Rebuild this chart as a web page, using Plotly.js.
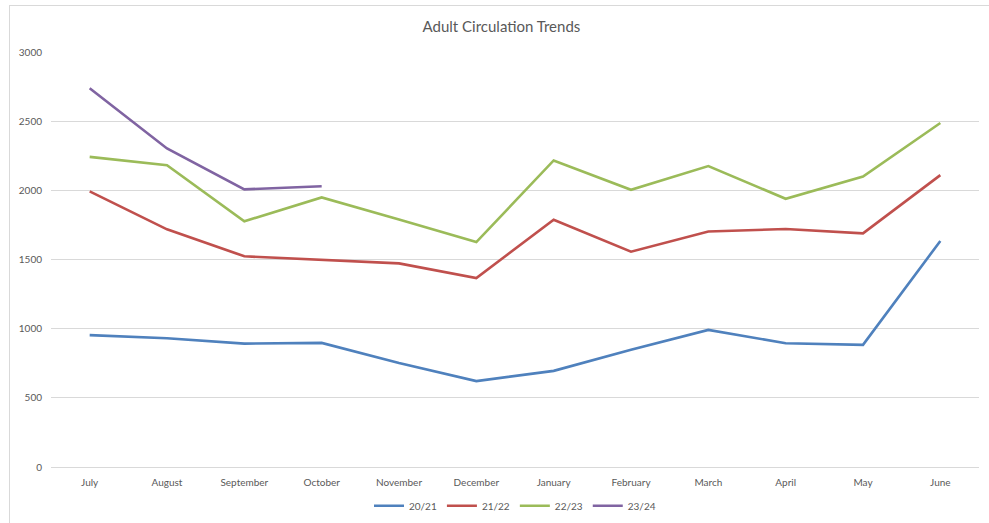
<!DOCTYPE html>
<html>
<head>
<meta charset="utf-8">
<script src="https://cdn.plot.ly/plotly-3.0.1.min.js"></script>
<style>
  html, body { margin: 0; padding: 0; background: #fff; }
  #chart { width: 989px; height: 523px; position: relative; }
  #frame { position: absolute; left: 9px; top: 5px; width: 990px; height: 530px;
           border-left: 1px solid #d9d9d9; border-top: 1px solid #d9d9d9; pointer-events: none; }
</style>
</head>
<body>
<div id="chart"></div>
<div id="frame"></div>
<script>
const months = ["July","August","September","October","November","December","January","February","March","April","May","June"];
const seriesNames = ["20/21","21/22","22/23","23/24"];
const s2021 = [953, 931, 892, 897, 751, 621, 695, 847, 991, 895, 883, 1634];
const s2122 = [1992, 1718, 1523, 1496, 1472, 1366, 1787, 1556, 1703, 1720, 1689, 2110];
const s2223 = [2242, 2182, 1776, 1949, 1790, 1626, 2216, 2004, 2175, 1939, 2100, 2487];
const s2324 = [2738, 2303, 2007, 2030];
const colors = ["#4F81BD","#C0504D","#9BBB59","#8064A2"];

const allSeries = [s2021, s2122, s2223, s2324];
const traces = allSeries.map((vals, i) => ({
  type: "scatter",
  mode: "lines",
  name: seriesNames[i],
  x: months.slice(0, vals.length),
  y: vals,
  line: { color: colors[i], width: 2.6 }
}));

const fontFam = "Lato, 'Open Sans', sans-serif";
const layout = {
  width: 989, height: 523,
  margin: { l: 51, r: 10, t: 52, b: 56, autoexpand: false },
  paper_bgcolor: "rgba(0,0,0,0)",
  plot_bgcolor: "#fff",
  title: { text: "Adult Circulation Trends", x: 0.507, xanchor: "center", y: 0.948, yanchor: "middle",
           font: { family: fontFam, size: 15, color: "#595959" } },
  xaxis: {
    type: "category", categoryorder: "array", categoryarray: months,
    range: [-0.5, 11.5], automargin: false,
    showgrid: false, zeroline: false, showline: false,
    ticks: "", ticklabelstandoff: 8,
    tickfont: { family: fontFam, size: 10, color: "#595959" }
  },
  yaxis: {
    range: [0, 3000], dtick: 500, tick0: 0, automargin: false,
    showgrid: true, gridcolor: "#d9d9d9", gridwidth: 1,
    zeroline: true, zerolinecolor: "#d9d9d9", zerolinewidth: 1,
    showline: false, ticks: "", ticklabelstandoff: 8,
    tickfont: { family: fontFam, size: 10, color: "#595959" }
  },
  showlegend: true,
  legend: {
    orientation: "h", x: 0.5, xanchor: "center",
    yref: "container", y: 0.033, yanchor: "middle",
    font: { family: fontFam, size: 10, color: "#595959" },
    itemwidth: 30, tracegroupgap: 0
  }
};

Plotly.newPlot("chart", traces, layout, { displayModeBar: false, staticPlot: true });
</script>
</body>
</html>
